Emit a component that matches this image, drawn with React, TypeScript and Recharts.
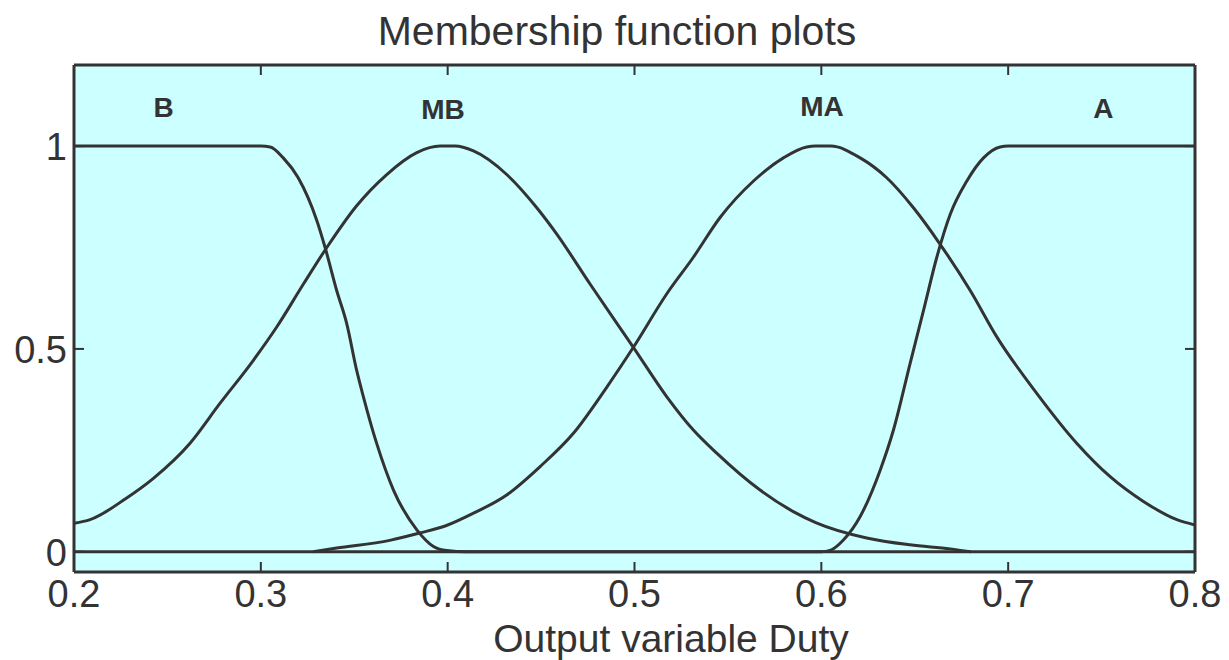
import React from "react";
import { LineChart, Line, XAxis, YAxis, CartesianGrid, ReferenceDot } from "recharts";

// Membership functions of the output variable "Duty"
const bData = [
  { x: 0.2, y: 1 }, { x: 0.3, y: 1 }, { x: 0.305, y: 0.998 }, { x: 0.312, y: 0.971 },
  { x: 0.32, y: 0.922 }, { x: 0.33, y: 0.816 }, { x: 0.3344, y: 0.75 }, { x: 0.3406, y: 0.644 },
  { x: 0.346, y: 0.562 }, { x: 0.3513, y: 0.447 }, { x: 0.3549, y: 0.382 }, { x: 0.362, y: 0.267 },
  { x: 0.371, y: 0.152 }, { x: 0.3835, y: 0.054 }, { x: 0.3924, y: 0.013 }, { x: 0.3995, y: 0.003 },
  { x: 0.41, y: 0 }, { x: 0.8, y: 0 },
];

const mbData = [
  { x: 0.2, y: 0.07 }, { x: 0.2086, y: 0.079 }, { x: 0.228, y: 0.132 }, { x: 0.2425, y: 0.181 },
  { x: 0.262, y: 0.267 }, { x: 0.278, y: 0.365 }, { x: 0.296, y: 0.472 }, { x: 0.3085, y: 0.554 },
  { x: 0.3228, y: 0.66 }, { x: 0.3353, y: 0.75 }, { x: 0.3513, y: 0.853 }, { x: 0.3674, y: 0.93 },
  { x: 0.3835, y: 0.984 }, { x: 0.396, y: 1 }, { x: 0.404, y: 1 }, { x: 0.4138, y: 0.988 },
  { x: 0.4316, y: 0.93 }, { x: 0.4477, y: 0.848 }, { x: 0.4584, y: 0.783 }, { x: 0.4762, y: 0.66 },
  { x: 0.4994, y: 0.504 }, { x: 0.5173, y: 0.382 }, { x: 0.5315, y: 0.3 }, { x: 0.544, y: 0.243 },
  { x: 0.5672, y: 0.152 }, { x: 0.585, y: 0.099 }, { x: 0.597, y: 0.072 }, { x: 0.6243, y: 0.034 },
  { x: 0.6475, y: 0.017 }, { x: 0.669, y: 0.007 }, { x: 0.68, y: 0 },
];

const maData = [
  { x: 0.328, y: 0 }, { x: 0.3406, y: 0.009 }, { x: 0.369, y: 0.028 }, { x: 0.385, y: 0.046 },
  { x: 0.399, y: 0.064 }, { x: 0.4138, y: 0.095 }, { x: 0.4316, y: 0.14 }, { x: 0.4495, y: 0.21 },
  { x: 0.4673, y: 0.292 }, { x: 0.4852, y: 0.406 }, { x: 0.4994, y: 0.504 }, { x: 0.5173, y: 0.636 },
  { x: 0.5315, y: 0.726 }, { x: 0.5458, y: 0.824 }, { x: 0.5637, y: 0.914 }, { x: 0.5797, y: 0.971 },
  { x: 0.5922, y: 0.998 }, { x: 0.597, y: 1 }, { x: 0.605, y: 1 }, { x: 0.6208, y: 0.971 },
  { x: 0.635, y: 0.922 }, { x: 0.6493, y: 0.848 }, { x: 0.6636, y: 0.758 }, { x: 0.6797, y: 0.644 },
  { x: 0.694, y: 0.529 }, { x: 0.7154, y: 0.39 }, { x: 0.7368, y: 0.267 }, { x: 0.7546, y: 0.185 },
  { x: 0.7724, y: 0.124 }, { x: 0.7903, y: 0.079 }, { x: 0.8, y: 0.066 },
];

const aData = [
  { x: 0.2, y: 0 }, { x: 0.6, y: 0 }, { x: 0.605, y: 0.004 }, { x: 0.6118, y: 0.029 },
  { x: 0.6208, y: 0.087 }, { x: 0.6315, y: 0.201 }, { x: 0.6386, y: 0.3 }, { x: 0.6475, y: 0.464 },
  { x: 0.6547, y: 0.595 }, { x: 0.6618, y: 0.726 }, { x: 0.669, y: 0.832 }, { x: 0.6779, y: 0.914 },
  { x: 0.6868, y: 0.971 }, { x: 0.6957, y: 0.998 }, { x: 0.7, y: 1 }, { x: 0.8, y: 1 },
];

const xTicks = [0.2, 0.3, 0.4, 0.5, 0.6, 0.7, 0.8];
const yTicks = [0, 0.5, 1];

// Set names placed above each function
const setLabels = [
  { name: "B", x: 0.2479, y: 1.096 },
  { name: "MB", x: 0.3975, y: 1.091 },
  { name: "MA", x: 0.6004, y: 1.098 },
  { name: "A", x: 0.7509, y: 1.093 },
];

const INK = "#333333";
const FONT = "'Liberation Sans', Arial, Helvetica, sans-serif";

const BottomTick = (props: any) => {
  const { x, y, payload } = props;
  return (
    <g>
      <line x1={x} x2={x} y1={y} y2={y - 10} stroke={INK} strokeWidth={2} />
      <text x={x} y={y + 35} textAnchor="middle" fill={INK} fontSize={38} fontFamily={FONT}>
        {String(payload.value)}
      </text>
    </g>
  );
};

const LeftTick = (props: any) => {
  const { x, y, payload } = props;
  return (
    <g>
      <line x1={x} x2={x + 10} y1={y} y2={y} stroke={INK} strokeWidth={2} />
      <text x={x - 7} y={y + 14} textAnchor="end" fill={INK} fontSize={38} fontFamily={FONT}>
        {String(payload.value)}
      </text>
    </g>
  );
};

const TopTick = (props: any) => {
  const { x, y } = props;
  return <line x1={x} x2={x} y1={y} y2={y + 10} stroke={INK} strokeWidth={2} />;
};

const RightTick = (props: any) => {
  const { x, y } = props;
  return <line x1={x} x2={x - 10} y1={y} y2={y} stroke={INK} strokeWidth={2} />;
};

const SetName = (props: any) => {
  const { cx, cy, text } = props;
  return (
    <text x={cx} y={cy + 10} textAnchor="middle" fill={INK} fontSize={28} fontWeight="bold" fontFamily={FONT}>
      {text}
    </text>
  );
};

const axisLine = { stroke: INK, strokeWidth: 3 };

export default function App() {
  return (
    <div style={{ position: "absolute", left: 0, top: 0, width: 1229, height: 660, background: "#fff", fontFamily: FONT }}>
      <div
        style={{
          position: "absolute",
          left: 617,
          top: 8,
          transform: "translateX(-50%)",
          whiteSpace: "nowrap",
          fontSize: 41,
          lineHeight: "46px",
          color: INK,
        }}
      >
        Membership function plots
      </div>
      <LineChart width={1229} height={660} margin={{ top: 64, right: 33, bottom: 0, left: 0 }}>
        <CartesianGrid horizontal={false} vertical={false} fill="#ccffff" />
        <XAxis
          xAxisId="bottom"
          dataKey="x"
          type="number"
          domain={[0.2, 0.8]}
          ticks={xTicks}
          allowDataOverflow
          height={88}
          tickSize={0}
          tickMargin={0}
          tickLine={false}
          axisLine={axisLine}
          tick={<BottomTick />}
          interval={0}
        />
        <XAxis
          xAxisId="top"
          orientation="top"
          dataKey="x"
          type="number"
          domain={[0.2, 0.8]}
          ticks={xTicks}
          allowDataOverflow
          height={1}
          tickSize={0}
          tickMargin={0}
          tickLine={false}
          axisLine={axisLine}
          tick={<TopTick />}
          interval={0}
        />
        <YAxis
          yAxisId="left"
          type="number"
          domain={[-0.05, 1.2]}
          ticks={yTicks}
          allowDataOverflow
          width={74}
          tickSize={0}
          tickMargin={0}
          tickLine={false}
          axisLine={axisLine}
          tick={<LeftTick />}
          interval={0}
        />
        <YAxis
          yAxisId="right"
          orientation="right"
          type="number"
          domain={[-0.05, 1.2]}
          ticks={yTicks}
          allowDataOverflow
          width={1}
          tickSize={0}
          tickMargin={0}
          tickLine={false}
          axisLine={axisLine}
          tick={<RightTick />}
          interval={0}
        />
        {[bData, mbData, maData, aData].map((d, i) => (
          <Line
            key={i}
            xAxisId="bottom"
            yAxisId="left"
            data={d}
            dataKey="y"
            type="monotone"
            stroke={INK}
            strokeWidth={3}
            strokeLinejoin="round"
            dot={false}
            activeDot={false}
            isAnimationActive={false}
          />
        ))}
        {setLabels.map((l) => (
          <ReferenceDot
            key={l.name}
            xAxisId="bottom"
            yAxisId="left"
            x={l.x}
            y={l.y}
            r={0}
            shape={(p: any) => <SetName {...p} text={l.name} />}
          />
        ))}
      </LineChart>
      <div
        style={{
          position: "absolute",
          left: 671,
          top: 616.5,
          transform: "translateX(-50%)",
          whiteSpace: "nowrap",
          fontSize: 39,
          lineHeight: "44px",
          color: INK,
        }}
      >
        Output variable Duty
      </div>
    </div>
  );
}
